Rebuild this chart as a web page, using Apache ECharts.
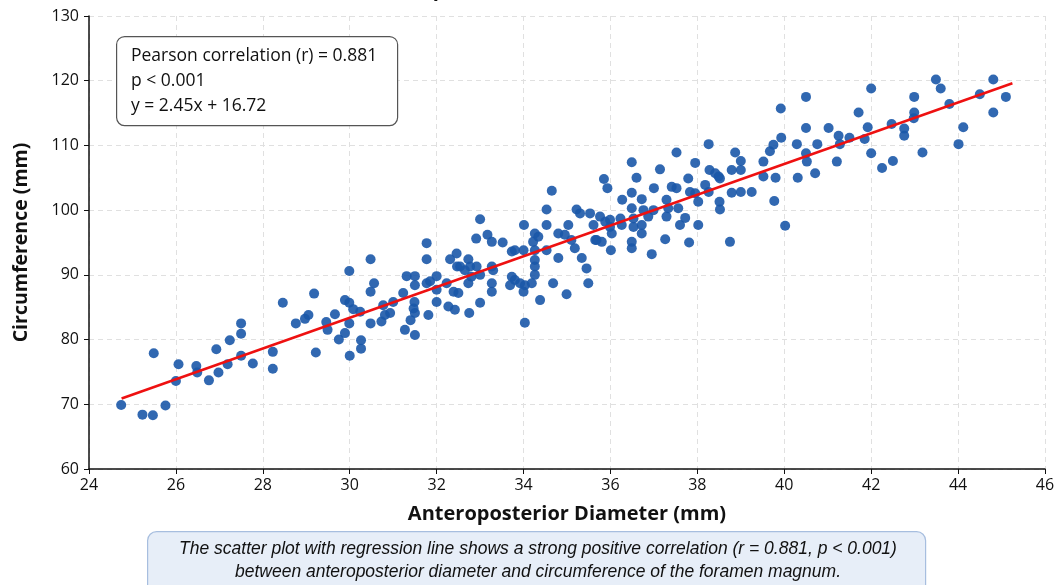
<!DOCTYPE html>
<html>
<head>
<meta charset="utf-8">
<title>AP Diameter vs Circumference</title>
<script src="https://cdn.jsdelivr.net/npm/echarts@6/dist/echarts.min.js"></script>
<style>
  html, body { margin: 0; padding: 0; background: #fff; }
  #chart { width: 1059px; height: 585px; }
</style>
</head>
<body>
<div id="chart"></div>
<script>
// anteroposterior diameter (mm)
var apDiameter = [
  24.74, 25.23, 25.47, 25.76, 25.49, 26.06, 26.0, 26.47, 26.49, 26.76,
  26.93, 26.98, 27.19, 27.24, 27.5, 27.5, 27.5, 27.77, 28.23, 28.23,
  28.46, 28.76, 28.97, 29.05, 29.18, 29.22, 29.46, 29.49, 29.66, 29.75,
  29.99, 29.89, 29.99, 29.99, 29.89, 30.0, 30.26, 30.26, 30.08, 30.24,
  30.48, 30.56, 30.48, 30.48, 30.77, 30.81, 30.73, 30.93, 31.0, 31.23,
  31.27, 31.31, 31.5, 31.5, 31.49, 31.47, 31.5, 31.4, 31.5, 31.77,
  31.77, 31.77, 31.85, 32.0, 32.0, 32.0, 31.81, 32.23, 32.27, 32.42,
  32.31, 32.46, 32.47, 32.39, 33.0, 32.91, 33.17, 33.27, 33.52, 32.73,
  32.77, 32.54, 32.65, 32.92, 33.0, 32.8, 32.73, 33.27, 33.3, 33.27,
  33.27, 32.5, 32.75, 33.0, 33.73, 33.8, 34.0, 33.73, 33.8, 33.69,
  33.92, 34.03, 34.0, 34.03, 34.01, 34.26, 34.34, 34.22, 34.26, 34.26,
  34.26, 34.26, 34.19, 34.38, 34.53, 34.53, 34.65, 34.53, 34.68, 34.8,
  34.8, 34.95, 35.03, 34.99, 35.1, 35.18, 35.22, 35.3, 35.34, 35.45,
  35.49, 35.53, 35.61, 35.65, 35.85, 35.93, 36.49, 36.6, 36.27, 36.49,
  35.76, 35.88, 35.99, 36.23, 36.26, 35.99, 36.03, 35.68, 35.8, 36.01,
  36.49, 36.53, 36.53, 36.49, 36.49, 36.72, 36.76, 36.72, 36.72, 36.95,
  36.87, 36.99, 37.0, 37.14, 37.26, 37.29, 37.29, 37.33, 37.41, 37.52,
  37.52, 37.56, 37.6, 37.72, 37.79, 37.81, 37.83, 37.95, 37.95, 38.02,
  38.02, 38.18, 38.26, 38.26, 38.28, 38.41, 38.49, 38.52, 38.51, 38.52,
  38.75, 38.79, 38.79, 38.87, 39.0, 39.0, 39.0, 39.25, 39.52, 39.52,
  39.67, 39.75, 39.77, 39.8, 39.92, 39.93, 40.02, 40.29, 40.31, 40.5,
  40.5, 40.5, 40.52, 40.71, 40.76, 41.02, 41.21, 41.25, 41.28, 41.5,
  41.71, 41.85, 41.92, 42.0, 42.0, 42.25, 42.47, 42.5, 42.76, 42.76,
  42.99, 42.99, 42.98, 43.18, 43.49, 43.6, 43.8, 44.01, 44.12, 44.5,
  44.81, 44.81, 45.1
];

// circumference (mm), same order
var circumference = [
  69.9, 68.4, 68.3, 69.8, 77.9, 76.2, 73.6, 75.9, 74.9, 73.7,
  78.5, 74.9, 76.2, 79.9, 82.5, 80.9, 77.5, 76.3, 78.1, 75.5,
  85.7, 82.5, 83.2, 83.8, 87.1, 78.0, 82.7, 81.5, 83.9, 80.0,
  90.6, 86.1, 85.7, 82.5, 81.0, 77.5, 79.9, 78.6, 84.7, 84.3,
  92.4, 88.7, 87.4, 82.5, 85.3, 83.8, 82.8, 84.1, 85.8, 87.2,
  81.5, 89.8, 89.8, 88.4, 85.8, 84.8, 84.1, 83.0, 80.7, 94.9,
  92.4, 88.7, 89.0, 89.8, 87.7, 85.8, 83.8, 88.7, 85.1, 84.6,
  92.4, 93.3, 91.3, 87.4, 98.6, 95.6, 96.2, 95.1, 95.0, 92.4,
  91.3, 91.3, 90.7, 91.3, 90.0, 89.7, 88.7, 91.3, 90.7, 88.7,
  87.4, 87.2, 84.1, 85.7, 93.6, 93.8, 93.8, 89.7, 89.2, 88.4,
  88.7, 88.4, 87.4, 82.6, 97.7, 96.4, 95.9, 95.1, 93.8, 92.3,
  91.3, 90.0, 88.7, 86.1, 100.1, 97.7, 103.0, 93.8, 88.7, 92.6,
  96.4, 96.2, 97.7, 87.0, 95.4, 94.1, 100.1, 99.5, 92.6, 91.0,
  88.7, 99.5, 97.7, 95.4, 104.8, 103.4, 107.4, 105.0, 101.6, 102.7,
  99.0, 98.2, 98.5, 98.7, 97.7, 97.4, 96.4, 95.4, 95.1, 93.8,
  100.3, 98.7, 97.4, 95.1, 94.1, 101.7, 100.0, 96.4, 97.7, 93.2,
  99.0, 100.0, 103.4, 106.3, 95.5, 101.6, 99.0, 100.3, 103.6, 103.4,
  108.9, 100.3, 97.7, 98.8, 104.9, 95.0, 102.8, 102.6, 107.3, 101.3,
  97.7, 103.9, 102.8, 110.2, 106.2, 105.7, 105.2, 104.9, 101.3, 100.1,
  95.1, 106.2, 102.7, 108.9, 107.6, 106.2, 102.8, 102.8, 107.5, 105.2,
  109.1, 110.1, 101.4, 105.0, 115.7, 111.2, 97.6, 110.2, 105.0, 117.5,
  112.7, 108.8, 107.5, 105.7, 110.2, 112.7, 107.5, 111.5, 110.2, 111.2,
  115.1, 111.0, 112.8, 118.8, 108.8, 106.5, 113.3, 107.6, 112.6, 111.5,
  117.5, 115.1, 114.2, 108.9, 120.2, 118.8, 116.4, 110.2, 112.8, 117.9,
  120.2, 115.1, 117.5
];

// regression line as drawn (end points)
var fitX = [24.75, 45.25];
var fitY = [70.9, 119.6];

var statLines = [
  'Pearson correlation (r) = 0.881',
  'p < 0.001',
  'y = 2.45x + 16.72'
];
var captionLines = [
  'The scatter plot with regression line shows a strong positive correlation (r = 0.881, p < 0.001)',
  'between anteroposterior diameter and circumference of the foramen magnum.'
];

var xTicks = { min: 24, max: 46, step: 2 };
var yTicks = { min: 60, max: 130, step: 10 };

var points = [];
for (var i = 0; i < apDiameter.length; i++) {
  points.push([apDiameter[i], circumference[i]]);
}
var fitLine = [];
for (var j = 0; j < fitX.length; j++) {
  fitLine.push([fitX[j], fitY[j]]);
}

var chart = echarts.init(document.getElementById('chart'));

var baseFont = '"Open Sans", "Noto Sans", sans-serif';

chart.setOption({
  animation: false,
  backgroundColor: '#fff',
  title: {
    text: 'Correlation Between Anteroposterior Diameter and Circumference (n = 243)',
    left: 'center',
    top: -25,
    textStyle: { fontSize: 20, fontWeight: 'bold', color: '#111', fontFamily: baseFont }
  },
  grid: { left: 89, right: 14, top: 16, bottom: 116 },
  xAxis: {
    type: 'value',
    min: xTicks.min,
    max: xTicks.max,
    interval: xTicks.step,
    name: 'Anteroposterior Diameter (mm)',
    nameLocation: 'middle',
    nameGap: 35,
    nameTextStyle: { fontSize: 20, fontWeight: 'bold', color: '#111', fontFamily: baseFont },
    axisLine: { show: true, lineStyle: { color: '#111', width: 1.5 } },
    axisTick: { show: true, length: 5, lineStyle: { color: '#111' } },
    axisLabel: { fontSize: 16, color: '#111', margin: 8, fontFamily: baseFont },
    splitLine: { show: true, lineStyle: { color: '#e0e0e0', type: [5, 4] } }
  },
  yAxis: {
    type: 'value',
    min: yTicks.min,
    max: yTicks.max,
    interval: yTicks.step,
    name: 'Circumference (mm)',
    nameLocation: 'middle',
    nameGap: 58,
    nameRotate: 90,
    nameTextStyle: { fontSize: 19.5, fontWeight: 'bold', color: '#111', fontFamily: baseFont },
    axisLine: { show: true, lineStyle: { color: '#111', width: 1.5 } },
    axisTick: { show: true, length: 5, lineStyle: { color: '#111' } },
    axisLabel: { fontSize: 16, color: '#111', margin: 10, fontFamily: baseFont },
    splitLine: { show: true, lineStyle: { color: '#e0e0e0', type: [5, 4] } }
  },
  series: [{
    type: 'scatter',
    data: points,
    symbolSize: 10,
    itemStyle: { color: '#1b58a8', opacity: 0.9 }
  }, {
    type: 'line',
    data: fitLine,
    symbol: 'none',
    lineStyle: { color: '#ee1111', width: 2.5 },
    z: 3
  }],
  graphic: [{
    type: 'rect',
    left: 116,
    top: 36,
    shape: { width: 281, height: 89, r: 8 },
    style: { fill: '#fff', stroke: '#555', lineWidth: 1.2 },
    z: 10
  }, {
    type: 'text',
    left: 131,
    top: 44,
    style: {
      text: statLines.join('\n'),
      font: '17.5px ' + baseFont,
      fill: '#111',
      lineHeight: 25
    },
    z: 11
  }, {
    type: 'rect',
    left: 147,
    top: 531,
    shape: { width: 778, height: 70, r: 9 },
    style: { fill: '#e7eef8', stroke: '#a7bedf', lineWidth: 1.2 },
    z: 10
  }, {
    type: 'text',
    x: 538,
    y: 538,
    style: {
      text: captionLines.join('\n'),
      font: 'italic 17.5px "Liberation Sans", sans-serif',
      fill: '#111',
      align: 'center',
      lineHeight: 23
    },
    z: 11
  }]
});

window.onresize = function() {
  chart.resize();
};
</script>
</body>
</html>
